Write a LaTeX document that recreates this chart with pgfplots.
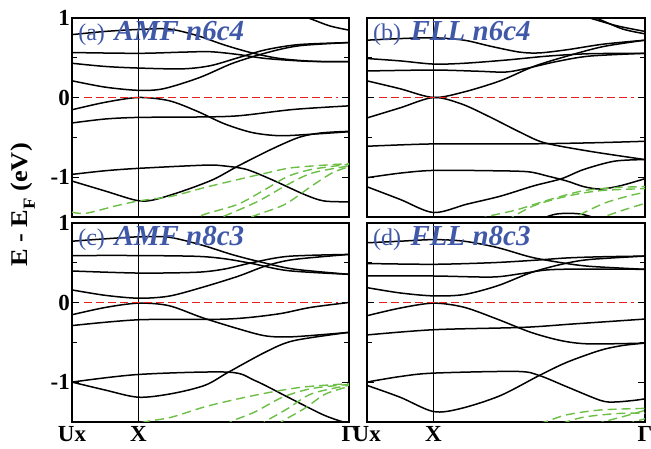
\documentclass[border=0pt]{standalone}
\usepackage{fontspec}
\setmainfont{Liberation Serif}
\usepackage{pgfplots}
\pgfplotsset{compat=1.18}
\usepackage{graphicx}

\definecolor{lblue}{RGB}{64,88,168}
\definecolor{bgreen}{RGB}{108,190,69}
\definecolor{fermi}{RGB}{235,30,30}

\pgfplotsset{
  band/.style={black, line width=1.5pt, smooth},
  gband/.style={bgreen, line width=1.4pt, dash pattern=on 9pt off 5pt, smooth},
  panel/.style={
    scale only axis, width=277pt, height=199pt, anchor=south west,
    xmin=0, xmax=1, ymin=-1.5, ymax=1,
    xtick={0,0.24,1}, ytick={-1,0,1}, minor ytick={-0.5,0.5},
    tick align=inside, major tick length=7pt, minor tick length=5pt,
    tick style={black, line width=1pt},
    x tick style={draw=none},
    axis line style={line width=1.6pt},
    ticklabel style={font=\fontsize{23}{23}\selectfont\bfseries},
    yticklabel style={inner sep=2pt},
    xticklabel style={inner sep=2pt, yshift=-2pt},
    xticklabels={}, yticklabels={},
  },
}
\newcommand{\xline}{%
  \addplot[black, line width=0.9pt] coordinates {(0.24,-1.5) (0.24,1)};
}
\newcommand{\fermiline}{%
  \addplot[draw=fermi, line width=1.6pt, dash pattern=on 8pt off 4pt] coordinates {(0.045,0) (0.96,0)};
}
\newcommand{\plabel}[3]{%
  \node[anchor=base west, inner sep=0pt, text=lblue] at (rel axis cs:0.022,0.887)
    {\fontsize{24}{24}\selectfont(#1)\hspace{0.4em}{\fontsize{29}{29}\selectfont\bfseries\itshape #2 #3}};
}

\begin{document}
\begin{tikzpicture}
\useasboundingbox (0,0) rectangle (651pt,448pt);

% (a) AMF n6c4
\begin{axis}[panel, at={(72pt,231.1pt)}, yticklabels={-1,0,1}]
\xline
\addplot[band] coordinates {(0,0.79) (0.12,0.83) (0.24,0.855) (0.35,0.86) (0.45,0.78) (0.55,0.66) (0.65,0.56) (0.75,0.49) (0.87,0.455) (1,0.45)};
\addplot[band] coordinates {(0,0.565) (0.24,0.555) (0.4,0.57) (0.5,0.575) (0.6,0.54) (0.7,0.49) (0.85,0.455) (1,0.45)};
\addplot[band] coordinates {(0,0.43) (0.12,0.39) (0.24,0.37) (0.4,0.36) (0.5,0.4) (0.6,0.5) (0.7,0.6) (0.82,0.665) (1,0.69)};
\addplot[band] coordinates {(0,0.21) (0.12,0.13) (0.24,0.09) (0.33,0.11) (0.46,0.25) (0.58,0.43) (0.7,0.56) (0.82,0.65) (1,0.69)};
\addplot[band] coordinates {(0.78,1.08) (0.86,0.99) (0.93,0.9) (1,0.846)};
\addplot[band] coordinates {(0,-0.154) (0.12,-0.06) (0.24,0) (0.35,-0.04) (0.45,-0.17) (0.55,-0.33) (0.65,-0.44) (0.75,-0.48) (0.87,-0.46) (1,-0.43)};
\addplot[band] coordinates {(0,-0.32) (0.12,-0.27) (0.24,-0.25) (0.45,-0.245) (0.6,-0.23) (0.8,-0.15) (1,-0.105)};
\addplot[band] coordinates {(0,-0.966) (0.12,-0.92) (0.24,-0.89) (0.48,-0.85) (0.55,-0.86) (0.63,-0.904) (0.72,-1.03) (0.84,-1.22) (0.91,-1.3) (1,-1.31)};
\addplot[band] coordinates {(0,-1.05) (0.12,-1.175) (0.23,-1.29) (0.29,-1.29) (0.4,-1.175) (0.51,-1.03) (0.6,-0.86) (0.72,-0.65) (0.82,-0.5) (0.9,-0.445) (1,-0.425)};
\addplot[gband] coordinates {(0,-1.44) (0.05,-1.455) (0.16,-1.36) (0.24,-1.3) (0.36,-1.24) (0.48,-1.13) (0.6,-1.03) (0.7,-0.95) (0.8,-0.88) (1,-0.83)};
\addplot[gband] coordinates {(0.42,-1.56) (0.48,-1.466) (0.6,-1.34) (0.7,-1.15) (0.78,-0.99) (0.87,-0.9) (1,-0.84)};
\addplot[gband] coordinates {(0.5,-1.56) (0.566,-1.466) (0.674,-1.3) (0.77,-1.11) (0.866,-0.95) (1,-0.86)};
\addplot[gband] coordinates {(0.6,-1.56) (0.674,-1.466) (0.77,-1.34) (0.866,-1.11) (0.94,-0.946) (1,-0.87)};
\fermiline
\plabel{a}{AMF}{n6c4}
\end{axis}

% (b) FLL n6c4
\begin{axis}[panel, at={(366.7pt,231.1pt)}, width=278.3pt]
\xline
\addplot[band] coordinates {(0,0.72) (0.12,0.74) (0.24,0.75) (0.35,0.72) (0.45,0.64) (0.55,0.57) (0.62,0.56) (0.72,0.6) (0.85,0.67) (1,0.72)};
\addplot[band] coordinates {(0,0.49) (0.12,0.46) (0.24,0.42) (0.35,0.43) (0.5,0.47) (0.65,0.52) (0.8,0.55) (1,0.555)};
\addplot[band] coordinates {(0,0.333) (0.24,0.345) (0.4,0.33) (0.5,0.32) (0.58,0.37) (0.68,0.45) (0.8,0.52) (1,0.555)};
\addplot[band] coordinates {(0,0.21) (0.12,0.11) (0.24,0) (0.35,0.07) (0.48,0.21) (0.6,0.39) (0.72,0.52) (0.85,0.64) (1,0.72)};
\addplot[band] coordinates {(0.74,1.06) (0.8,1.0) (0.9,0.9) (1,0.83)};
\addplot[band] coordinates {(0.77,1.06) (0.83,0.99) (0.92,0.86) (1,0.8)};
\addplot[band] coordinates {(0,-0.258) (0.12,-0.13) (0.24,0) (0.34,-0.08) (0.44,-0.24) (0.557,-0.446) (0.64,-0.57) (0.8,-0.675) (1,-0.78)};
\addplot[band] coordinates {(0,-0.6125) (0.24,-0.583) (0.56,-0.583) (0.8,-0.57) (1,-0.55)};
\addplot[band] coordinates {(0,-1.008) (0.12,-0.95) (0.24,-0.916) (0.45,-0.92) (0.58,-0.933) (0.65,-0.987) (0.72,-1.05) (0.78,-1.12) (0.84,-1.15) (0.91,-1.11) (1,-1.02)};
\addplot[band] coordinates {(0,-1.12) (0.12,-1.28) (0.24,-1.445) (0.36,-1.34) (0.48,-1.24) (0.6,-1.11) (0.7,-1.02) (0.78,-0.904) (0.89,-0.8) (1,-0.78)};
\addplot[band] coordinates {(0.6,-1.56) (0.68,-1.465) (0.77,-1.465) (0.86,-1.56)};
\addplot[gband] coordinates {(0.4,-1.54) (0.44,-1.49) (0.54,-1.41) (0.66,-1.28) (0.78,-1.17) (0.9,-1.13) (1,-1.12)};
\addplot[gband] coordinates {(0.5,-1.55) (0.6,-1.36) (0.72,-1.24) (0.84,-1.17) (1,-1.145)};
\addplot[gband] coordinates {(0.72,-1.56) (0.77,-1.465) (0.86,-1.32) (0.96,-1.22) (1,-1.195)};
\addplot[gband] coordinates {(0.82,-1.56) (0.86,-1.49) (0.935,-1.4) (1,-1.33)};
\fermiline
\plabel{b}{FLL}{n6c4}
\end{axis}

% (c) AMF n8c3
\begin{axis}[panel, at={(72pt,26.1pt)}, yticklabels={-1,0,1}, xticklabels={Ux,X,Γ}]
\xline
\addplot[band] coordinates {(0,0.77) (0.12,0.8) (0.24,0.825) (0.35,0.82) (0.47,0.72) (0.58,0.6) (0.68,0.51) (0.8,0.42) (1,0.354)};
\addplot[band] coordinates {(0,0.59) (0.24,0.59) (0.45,0.58) (0.55,0.55) (0.65,0.49) (0.78,0.4) (1,0.354)};
\addplot[band] coordinates {(0,0.396) (0.24,0.37) (0.45,0.38) (0.55,0.42) (0.65,0.5) (0.78,0.58) (1,0.604)};
\addplot[band] coordinates {(0,0.158) (0.12,0.09) (0.24,0.054) (0.35,0.08) (0.47,0.19) (0.6,0.33) (0.7,0.46) (0.8,0.54) (1,0.604)};
\addplot[band] coordinates {(0,-0.154) (0.12,-0.0625) (0.24,-0.008) (0.35,-0.04) (0.47,-0.19) (0.6,-0.33) (0.7,-0.42) (0.8,-0.43) (1,-0.375)};
\addplot[band] coordinates {(0,-0.29) (0.24,-0.217) (0.56,-0.208) (0.74,-0.146) (0.86,-0.0625) (1,0)};
\addplot[band] coordinates {(0,-1) (0.24,-0.904) (0.565,-0.875) (0.66,-0.98) (0.78,-1.19) (0.9,-1.4) (0.96,-1.48) (1,-1.52)};
\addplot[band] coordinates {(0,-1) (0.12,-1.1) (0.24,-1.19) (0.36,-1.145) (0.48,-1.04) (0.565,-0.875) (0.7,-0.62) (0.8,-0.48) (1,-0.375)};
\addplot[gband] coordinates {(0.25,-1.51) (0.277,-1.49) (0.36,-1.44) (0.48,-1.31) (0.6,-1.21) (0.72,-1.125) (0.84,-1.06) (1,-1.02)};
\addplot[gband] coordinates {(0.55,-1.56) (0.578,-1.49) (0.66,-1.375) (0.76,-1.19) (0.866,-1.08) (1,-1.03)};
\addplot[gband] coordinates {(0.67,-1.56) (0.7,-1.49) (0.78,-1.33) (0.866,-1.145) (1,-1.04)};
\addplot[gband] coordinates {(0.74,-1.56) (0.76,-1.49) (0.84,-1.33) (0.915,-1.15) (1,-1.055)};
\fermiline
\plabel{c}{AMF}{n8c3}
\end{axis}

% (d) FLL n8c3
\begin{axis}[panel, at={(366.7pt,26.1pt)}, width=278.3pt, xticklabels={Ux,X,Γ}]
\xline
\addplot[band] coordinates {(0,0.75) (0.12,0.77) (0.24,0.79) (0.35,0.77) (0.47,0.69) (0.59,0.57) (0.7,0.5) (0.8,0.455) (1,0.417)};
\addplot[band] coordinates {(0,0.49) (0.24,0.48) (0.45,0.5) (0.6,0.53) (0.72,0.56) (0.85,0.575) (1,0.583)};
\addplot[band] coordinates {(0,0.333) (0.24,0.333) (0.45,0.32) (0.55,0.36) (0.65,0.41) (0.78,0.42) (1,0.417)};
\addplot[band] coordinates {(0,0.1875) (0.12,0.12) (0.24,0.083) (0.35,0.1) (0.47,0.21) (0.59,0.375) (0.7,0.48) (0.8,0.54) (1,0.583)};
\addplot[band] coordinates {(0,-0.167) (0.12,-0.07) (0.24,-0.008) (0.35,-0.06) (0.47,-0.21) (0.59,-0.375) (0.7,-0.48) (0.8,-0.52) (1,-0.51)};
\addplot[band] coordinates {(0,-0.408) (0.24,-0.342) (0.56,-0.3125) (0.74,-0.27) (1,-0.208)};
\addplot[band] coordinates {(0,-1) (0.12,-0.93) (0.24,-0.887) (0.54,-0.866) (0.62,-0.917) (0.72,-1.06) (0.84,-1.23) (0.89,-1.25) (0.96,-1.23) (1,-1.21)};
\addplot[band] coordinates {(0,-1.04) (0.12,-1.19) (0.24,-1.37) (0.34,-1.33) (0.48,-1.17) (0.62,-0.917) (0.72,-0.75) (0.84,-0.6) (0.92,-0.54) (1,-0.51)};
\addplot[gband] coordinates {(0.62,-1.52) (0.65,-1.49) (0.72,-1.41) (0.84,-1.35) (1,-1.33)};
\addplot[gband] coordinates {(0.7,-1.52) (0.78,-1.44) (0.9,-1.395) (1,-1.39)};
\addplot[gband] coordinates {(0.82,-1.53) (0.86,-1.49) (0.935,-1.42) (1,-1.355)};
\addplot[gband] coordinates {(0.93,-1.53) (1,-1.46)};
\fermiline
\plabel{d}{FLL}{n8c3}
\end{axis}

\node[rotate=90, inner sep=0pt, font=\fontsize{24}{24}\selectfont\bfseries] at (23pt,243pt)
  {\scalebox{1.1}[1]{E - E\raisebox{-0.3em}{\fontsize{17}{17}\selectfont F} (eV)}};
\end{tikzpicture}
\end{document}
